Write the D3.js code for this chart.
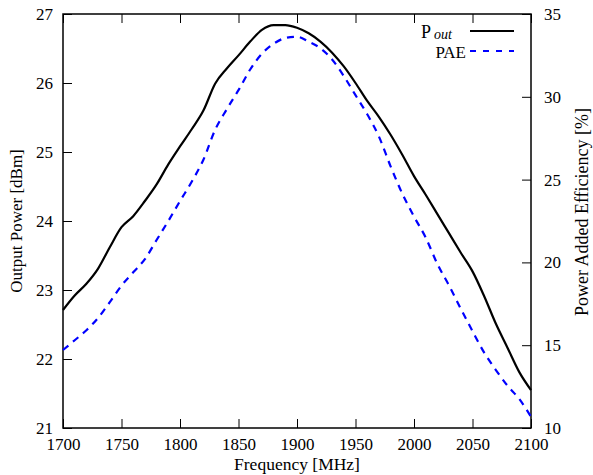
<!DOCTYPE html>
<html>
<head>
<meta charset="utf-8">
<script src="https://cdn.jsdelivr.net/npm/d3@7"></script>
<style>
  body { margin: 0; background: #fff; }
  svg text { font-family: "Liberation Serif", "Times New Roman", Times, serif; }
</style>
</head>
<body>
<svg id="chart" width="593" height="475"></svg>
<script>
// Frequency sweep, MHz
const freq = [1700, 1710, 1720, 1730, 1740, 1750, 1760, 1770, 1780, 1790,
              1800, 1810, 1820, 1830, 1840, 1850, 1860, 1870, 1880, 1890,
              1900, 1910, 1920, 1930, 1940, 1950, 1960, 1970, 1980, 1990,
              2000, 2010, 2020, 2030, 2040, 2050, 2060, 2070, 2080, 2090, 2100];

// Output power, dBm (left axis)
const pout = [22.71, 22.92, 23.09, 23.31, 23.62, 23.91, 24.07, 24.29, 24.53, 24.82,
              25.08, 25.33, 25.60, 25.99, 26.21, 26.40, 26.60, 26.77, 26.84, 26.84,
              26.80, 26.72, 26.60, 26.44, 26.24, 26.00, 25.74, 25.51, 25.25, 24.96,
              24.65, 24.38, 24.10, 23.82, 23.54, 23.27, 22.91, 22.51, 22.16, 21.81, 21.55];

// Power added efficiency, % (right axis)
const pae = [14.71, 15.30, 15.90, 16.65, 17.60, 18.60, 19.40, 20.20, 21.35, 22.50,
             23.70, 24.87, 26.20, 28.00, 29.25, 30.40, 31.65, 32.60, 33.20, 33.55,
             33.63, 33.33, 32.93, 32.25, 31.25, 30.10, 28.95, 27.60, 25.80, 24.15,
             22.77, 21.50, 19.90, 18.60, 17.20, 15.85, 14.55, 13.50, 12.55, 11.75, 10.68];

const xTicks = [1700, 1750, 1800, 1850, 1900, 1950, 2000, 2050, 2100];
const yLeftTicks = [21, 22, 23, 24, 25, 26, 27];
const yRightTicks = [10, 15, 20, 25, 30, 35];

const svg = d3.select("#chart"),
      margin = {top: 14, right: 62, bottom: 47, left: 63},
      width = 593 - margin.left - margin.right,
      height = 475 - margin.top - margin.bottom;

const g = svg.append("g")
             .attr("transform", "translate(" + margin.left + "," + margin.top + ")");

const x = d3.scaleLinear().domain([1700, 2100]).range([0, width]);
const yL = d3.scaleLinear().domain([21, 27]).range([height, 0]);
const yR = d3.scaleLinear().domain([10, 35]).range([height, 0]);

function styleAxis(sel) {
  sel.select(".domain").remove();
  sel.selectAll(".tick line").attr("stroke", "#000").attr("stroke-width", 1);
  sel.selectAll(".tick text").attr("fill", "#000").style("font-size", "17px");
}

// Bottom axis
g.append("g")
 .attr("transform", "translate(0," + height + ")")
 .call(d3.axisBottom(x).tickValues(xTicks).tickSize(-9).tickPadding(10).tickFormat(d3.format("d")))
 .call(styleAxis);

// Top mirror ticks
g.append("g")
 .call(d3.axisTop(x).tickValues(xTicks).tickSize(-9).tickFormat(""))
 .call(styleAxis);

// Left axis
g.append("g")
 .call(d3.axisLeft(yL).tickValues(yLeftTicks).tickSize(-9).tickPadding(10).tickFormat(d3.format("d")))
 .call(styleAxis);

// Right axis
g.append("g")
 .attr("transform", "translate(" + width + ",0)")
 .call(d3.axisRight(yR).tickValues(yRightTicks).tickSize(-9).tickPadding(13).tickFormat(d3.format("d")))
 .call(styleAxis);

// Frame
g.append("rect")
 .attr("width", width)
 .attr("height", height)
 .attr("fill", "none")
 .attr("stroke", "#000")
 .attr("stroke-width", 1.5);

// Lines
const lineP = d3.line()
                .x((d, i) => x(freq[i]))
                .y(d => yL(d))
                .curve(d3.curveMonotoneX);

const lineE = d3.line()
                .x((d, i) => x(freq[i]))
                .y(d => yR(d))
                .curve(d3.curveMonotoneX);

g.append("path")
 .datum(pae)
 .attr("fill", "none")
 .attr("stroke", "#0000ff")
 .attr("stroke-width", 2.2)
 .attr("stroke-dasharray", "7,6")
 .attr("d", lineE);

g.append("path")
 .datum(pout)
 .attr("fill", "none")
 .attr("stroke", "#000")
 .attr("stroke-width", 2.2)
 .attr("d", lineP);

// Axis titles
svg.append("text")
   .attr("x", margin.left + width / 2)
   .attr("y", 470)
   .attr("text-anchor", "middle")
   .style("font-size", "17.5px")
   .text("Frequency [MHz]");

svg.append("text")
   .attr("transform", "translate(22," + (margin.top + height / 2) + ") rotate(-90)")
   .attr("text-anchor", "middle")
   .style("font-size", "17px")
   .text("Output Power [dBm]");

svg.append("text")
   .attr("transform", "translate(588,212) rotate(-90)")
   .attr("text-anchor", "middle")
   .style("font-size", "18px")
   .text("Power Added Efficiency [%]");

// Legend
const legend = svg.append("g");

legend.append("text")
      .attr("x", 421)
      .attr("y", 38)
      .style("font-size", "18px")
      .text("P");

legend.append("text")
      .attr("x", 434)
      .attr("y", 39)
      .style("font-style", "italic")
      .style("font-size", "14px")
      .text("out");

legend.append("line")
      .attr("x1", 470).attr("x2", 514)
      .attr("y1", 31).attr("y2", 31)
      .attr("stroke", "#000")
      .attr("stroke-width", 2.2);

legend.append("text")
      .attr("x", 466)
      .attr("y", 58)
      .attr("text-anchor", "end")
      .style("font-size", "17px")
      .text("PAE");

legend.append("line")
      .attr("x1", 470).attr("x2", 514)
      .attr("y1", 51).attr("y2", 51)
      .attr("stroke", "#0000ff")
      .attr("stroke-width", 2.2)
      .attr("stroke-dasharray", "6,7");
</script>
</body>
</html>
